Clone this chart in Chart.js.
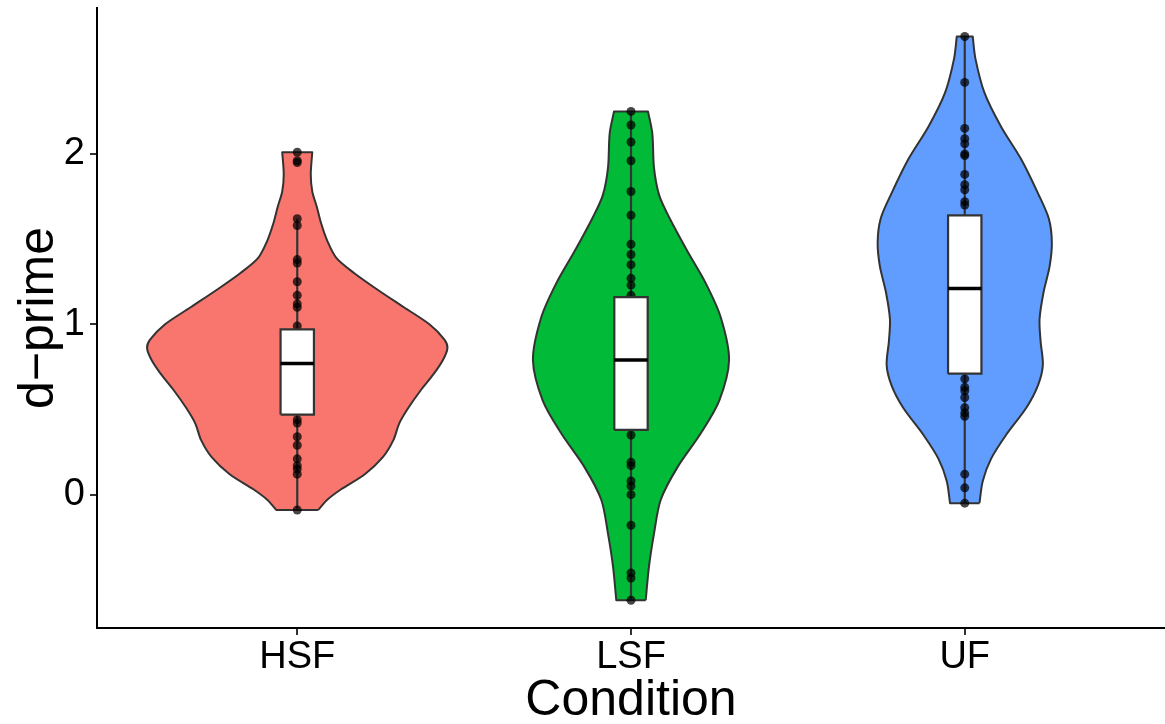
<!DOCTYPE html>
<html>
<head>
<meta charset="utf-8">
<script src="https://cdn.jsdelivr.net/npm/chart.js@4.4.1/dist/chart.umd.min.js"></script>
<style>
  html, body { margin: 0; padding: 0; background: #ffffff; }
  #wrap { width: 1165px; height: 724px; position: relative; }
</style>
</head>
<body>
<div id="wrap"><canvas id="chart"></canvas></div>
<script>
// Conditions and their fill colours
const categories = ['HSF', 'LSF', 'UF'];
const fillColors = ['#F8766D', '#00BA38', '#619CFF'];
const yTicks = [0, 1, 2];

// Kernel density profiles: d-prime level and relative density at that level
const hsfLevels  = [-0.09, -0.03, 0.03, 0.12, 0.22, 0.32, 0.42, 0.51, 0.61, 0.71, 0.79, 0.86, 0.91, 1.00, 1.10, 1.20, 1.30, 1.39, 1.49, 1.59, 1.69, 1.78, 1.88, 2.01];
const hsfDensity = [0.14, 0.20, 0.29, 0.45, 0.57, 0.64, 0.68, 0.74, 0.82, 0.91, 0.97, 1.00, 0.98, 0.88, 0.71, 0.54, 0.38, 0.26, 0.20, 0.16, 0.13, 0.10, 0.09, 0.10];

const lsfLevels  = [-0.62, -0.42, -0.23, -0.03, 0.16, 0.36, 0.55, 0.79, 1.04, 1.24, 1.43, 1.63, 1.76, 1.92, 2.12, 2.25];
const lsfDensity = [0.098, 0.12, 0.153, 0.198, 0.309, 0.465, 0.587, 0.653, 0.598, 0.498, 0.375, 0.253, 0.187, 0.153, 0.142, 0.113];

const ufLevels   = [-0.05, 0.08, 0.21, 0.35, 0.51, 0.64, 0.76, 0.90, 1.03, 1.19, 1.34, 1.48, 1.62, 1.77, 1.97, 2.16, 2.36, 2.56, 2.69];
const ufDensity  = [0.098, 0.12, 0.175, 0.275, 0.41, 0.487, 0.52, 0.505, 0.498, 0.525, 0.565, 0.58, 0.56, 0.487, 0.375, 0.242, 0.131, 0.071, 0.053];

// Individual participant scores
const hsfScores = [2.01, 1.96, 1.95, 1.62, 1.58, 1.38, 1.36, 1.25, 1.17, 1.12, 1.10, 0.99, 0.44, 0.42, 0.34, 0.29, 0.21, 0.17, 0.15, 0.12, -0.09];
const lsfScores = [2.25, 2.17, 2.07, 1.96, 1.78, 1.64, 1.47, 1.41, 1.35, 1.27, 1.23, 1.17, 0.35, 0.19, 0.17, 0.08, 0.05, 0.00, -0.18, -0.46, -0.49, -0.62];
const ufScores  = [2.69, 2.42, 2.15, 2.09, 2.06, 2.00, 1.99, 1.88, 1.82, 1.79, 1.72, 1.70, 0.68, 0.63, 0.61, 0.57, 0.51, 0.48, 0.46, 0.12, 0.04, -0.05];

// Box plot summaries per condition
const boxQ1       = [0.47, 0.38, 0.71];
const boxMedian   = [0.77, 0.79, 1.21];
const boxQ3       = [0.97, 1.16, 1.64];
const whiskerLow  = [-0.09, -0.62, -0.05];
const whiskerHigh = [1.62, 2.25, 2.69];

// ---- geometry helpers (category k sits at x = k + 1 on a linear axis) ----
const VIOLIN_HALF = 0.45;   // half-width of the widest violin, in category units
const BOX_HALF = 0.05;      // half-width of the boxes
const OUTLINE = '#333333';
const FONT = "'Liberation Sans', Arial, Helvetica, sans-serif";

function violinOutline(center, levels, density) {
  const right = levels.map((y, i) => ({ x: center + density[i] * VIOLIN_HALF, y }));
  const left = levels.map((y, i) => ({ x: center - density[i] * VIOLIN_HALF, y })).reverse();
  const top = right[right.length - 1], bot = right[0];
  const topL = left[0], botL = left[left.length - 1];
  // corners are repeated so the flat ends stay square under curve smoothing
  return [...right, top, topL, ...left, botL, bot];
}

function boxOutline(center, q1, q3) {
  return [
    { x: center - BOX_HALF, y: q1 }, { x: center + BOX_HALF, y: q1 },
    { x: center + BOX_HALF, y: q3 }, { x: center - BOX_HALF, y: q3 },
    { x: center - BOX_HALF, y: q1 }
  ];
}

// axis boxes keep a fixed size with no extra label overhang
function fixAxis(size, horizontal) {
  return s => {
    if (horizontal) s.height = size; else s.width = size;
    s.paddingTop = 0; s.paddingBottom = 0; s.paddingLeft = 0; s.paddingRight = 0;
  };
}

const profiles = [
  [hsfLevels, hsfDensity],
  [lsfLevels, lsfDensity],
  [ufLevels, ufDensity]
];
const scores = [hsfScores, lsfScores, ufScores];

const datasets = [];
categories.forEach((name, k) => {
  const c = k + 1;
  // violin body
  datasets.push({
    type: 'line', label: name + ' density', order: 50,
    data: violinOutline(c, profiles[k][0], profiles[k][1]),
    fill: 'shape', backgroundColor: fillColors[k],
    borderColor: OUTLINE, borderWidth: 2, tension: 0.3,
    pointRadius: 0, borderJoinStyle: 'round'
  });
  // whiskers
  datasets.push({
    type: 'line', label: name + ' lower whisker', order: 40,
    data: [{ x: c, y: whiskerLow[k] }, { x: c, y: boxQ1[k] }],
    borderColor: OUTLINE, borderWidth: 2.2, pointRadius: 0, fill: false
  });
  datasets.push({
    type: 'line', label: name + ' upper whisker', order: 40,
    data: [{ x: c, y: boxQ3[k] }, { x: c, y: whiskerHigh[k] }],
    borderColor: OUTLINE, borderWidth: 2.2, pointRadius: 0, fill: false
  });
  // participants
  datasets.push({
    type: 'line', label: name + ' scores', order: 30, showLine: false,
    data: scores[k].map(v => ({ x: c, y: v })),
    pointRadius: 4.5, pointBorderWidth: 0,
    pointBackgroundColor: 'rgba(0,0,0,0.72)', pointHoverRadius: 4.5
  });
  // box
  datasets.push({
    type: 'line', label: name + ' box', order: 20,
    data: boxOutline(c, boxQ1[k], boxQ3[k]),
    fill: 'shape', backgroundColor: '#ffffff',
    borderColor: OUTLINE, borderWidth: 2.2, tension: 0,
    pointRadius: 0, borderJoinStyle: 'miter'
  });
  // median
  datasets.push({
    type: 'line', label: name + ' median', order: 10,
    data: [{ x: c - BOX_HALF, y: boxMedian[k] }, { x: c + BOX_HALF, y: boxMedian[k] }],
    borderColor: '#000000', borderWidth: 3.6, pointRadius: 0, fill: false,
    borderCapStyle: 'butt'
  });
});

new Chart(document.getElementById('chart'), {
  type: 'line',
  data: { datasets },
  options: {
    responsive: true,
    maintainAspectRatio: false,
    animation: false,
    events: [],
    layout: { autoPadding: false, padding: { top: 8, right: 0, left: 0, bottom: 0 } },
    plugins: { legend: { display: false }, tooltip: { enabled: false } },
    scales: {
      x: {
        type: 'linear', min: 0.4, max: 3.6,
        afterBuildTicks: s => { s.ticks = categories.map((_, k) => ({ value: k + 1 })); },
        afterFit: fixAxis(96, true),
        ticks: {
          callback: v => categories[Math.round(v) - 1] || '',
          autoSkip: false, maxRotation: 0, minRotation: 0,
          color: '#000000', padding: 0,
          font: { family: FONT, size: 38 }
        },
        grid: { display: true, drawOnChartArea: false, drawTicks: true, tickLength: 7, color: OUTLINE, lineWidth: 2 },
        border: { display: true, color: '#000000', width: 2 },
        title: {
          display: true, text: 'Condition', color: '#000000',
          font: { family: FONT, size: 50, lineHeight: 0.92 },
          padding: { top: 0, bottom: 0 }
        }
      },
      y: {
        type: 'linear', min: -0.783, max: 2.857,
        afterBuildTicks: s => { s.ticks = yTicks.map(v => ({ value: v })); },
        afterFit: fixAxis(97, false),
        ticks: {
          callback: v => String(v),
          color: '#000000', padding: 5,
          font: { family: FONT, size: 38 }
        },
        grid: { display: true, drawOnChartArea: false, drawTicks: true, tickLength: 7, color: OUTLINE, lineWidth: 2 },
        border: { display: true, color: '#000000', width: 2 },
        title: {
          display: true, text: 'd\u2212prime', color: '#000000',
          font: { family: FONT, size: 50, lineHeight: 1.2 },
          padding: { top: 9, bottom: 0 }
        }
      }
    }
  }
});
</script>
</body>
</html>
